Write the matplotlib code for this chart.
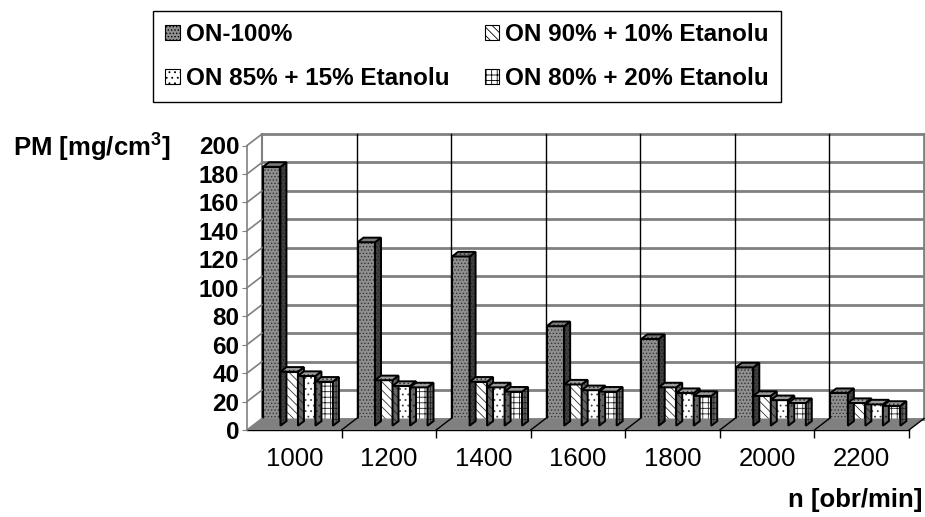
import numpy as np
import matplotlib
matplotlib.use("Agg")
import matplotlib.pyplot as plt
from matplotlib.patches import Polygon, Patch
from matplotlib.transforms import ScaledTranslation, IdentityTransform

plt.rcParams['font.family'] = ['Liberation Sans', 'DejaVu Sans']
plt.rcParams['hatch.linewidth'] = 0.6
plt.rcParams['mathtext.fontset'] = 'custom'
plt.rcParams['mathtext.rm'] = 'Liberation Sans'
plt.rcParams['mathtext.bf'] = 'Liberation Sans:bold'

# engine speed [obr/min] and particulate mass for each fuel blend
speeds = ['1000', '1200', '1400', '1600', '1800', '2000', '2200']
labels = ['ON-100%', 'ON 90% + 10% Etanolu',
          'ON 85% + 15% Etanolu', 'ON 80% + 20% Etanolu']
pm_on100 = [182, 129, 119, 70, 61, 41, 23]
pm_et10 = [38, 32, 31, 29, 27, 21, 16]
pm_et15 = [35, 28, 27, 25, 23, 18, 15]
pm_et20 = [31, 27, 24, 24, 21, 16, 14]
y_ticks = list(range(0, 201, 20))

series = [pm_on100, pm_et10, pm_et15, pm_et20]
# (front face, hatch, hatch colour, top face, side face)
styles = [
    ('#8f8f8f', '.....', '#333333', '#7a7a7a', '#404040'),
    ('white', '\\\\\\\\', '#333333', '#9c9c9c', '#666666'),
    ('white', '...', '#444444', '#9c9c9c', '#666666'),
    ('white', '+++', '#222222', '#9c9c9c', '#666666'),
]

DPI = 100
DEPTH = np.array([15.0, 11.5])   # floor depth in pixels (right, up)
n = len(speeds)

fig = plt.figure(figsize=(9.25, 5.17), dpi=DPI)
ax = fig.add_axes([247 / 925, 87 / 517, 662 / 925, 284.5 / 517])
ax.set_xlim(0, n)
ax.set_ylim(0, 200)
ax.autoscale(False)


def shifted(frac):
    return ax.transData + ScaledTranslation(DEPTH[0] * frac / DPI,
                                            DEPTH[1] * frac / DPI,
                                            fig.dpi_scale_trans)


def px(x, y, frac):
    return ax.transData.transform((x, y)) + DEPTH * frac


def face(points, fc, hatch, hc, z):
    fig.add_artist(Polygon(points, closed=True, facecolor=fc, edgecolor=hc,
                           hatch=hatch, lw=0, transform=IdentityTransform(),
                           zorder=z))
    fig.add_artist(Polygon(points, closed=True, fill=False, edgecolor='black',
                           lw=1.4, transform=IdentityTransform(), zorder=z))


# back wall
back = shifted(1.0)
for v in y_ticks:
    ax.plot([0, n], [v, v], color='#808080', lw=2, transform=back,
            clip_on=False, zorder=1)
for k in range(1, n):
    ax.plot([k, k], [0, 200], color='black', lw=1, transform=back,
            clip_on=False, zorder=1)
ax.plot([n, n], [0, 200], color='#808080', lw=2, transform=back,
        clip_on=False, zorder=1)
ax.plot([0, 0], [0, 200], color='#808080', lw=1.5, transform=back,
        clip_on=False, zorder=1)

# left wall diagonals
for v in y_ticks:
    p0, p1 = px(0, v, 0), px(0, v, 1)
    fig.add_artist(plt.Line2D([p0[0], p1[0]], [p0[1], p1[1]], color='#808080',
                              lw=1.2, transform=IdentityTransform(), zorder=1))

# floor
floor = [px(0, 0, 0), px(n, 0, 0), px(n, 0, 1), px(0, 0, 1)]
fig.add_artist(Polygon(floor, closed=True, facecolor='#808080',
                       edgecolor='none', transform=IdentityTransform(),
                       zorder=1.5))
for k in range(1, n + 1):
    p0, p1 = px(k, 0, 0), px(k, 0, 1)
    fig.add_artist(plt.Line2D([p0[0], p1[0]], [p0[1], p1[1]], color='black',
                              lw=1, transform=IdentityTransform(), zorder=1.6))

# bars with depth
d0, d1 = 0.37, 0.77
bw = 0.185
x0 = np.arange(n) + 0.11
front = shifted(d0)
for i in range(n):
    for j, (vals, st) in enumerate(zip(series, styles)):
        fc, hatch, hc, top_c, side_c = st
        xl = x0[i] + j * bw
        xr = xl + bw
        v = vals[i]
        z = 3 + i * 0.1 + j * 0.01
        side = [px(xr, 0, d0), px(xr, v, d0), px(xr, v, d1), px(xr, 0, d1)]
        top = [px(xl, v, d0), px(xr, v, d0), px(xr, v, d1), px(xl, v, d1)]
        face(side, side_c, hatch, '#222222', z)
        face(top, top_c, '....', '#333333', z)
        ax.bar(xl, v, bw, align='edge', color=fc, edgecolor=hc, hatch=hatch,
               lw=0, transform=front, zorder=z + 0.001, clip_on=False)
        ax.bar(xl, v, bw, align='edge', fill=False, edgecolor='black',
               lw=1.5, transform=front, zorder=z + 0.002, clip_on=False)

# axes and ticks
for s in ['top', 'right']:
    ax.spines[s].set_visible(False)
ax.spines['left'].set_color('#808080')
ax.spines['left'].set_linewidth(1.2)
ax.spines['bottom'].set_color('black')
ax.spines['bottom'].set_linewidth(1)
ax.patch.set_visible(False)

ax.set_yticks(y_ticks)
ax.set_yticklabels([str(v) for v in y_ticks], fontsize=17.5, fontweight='bold')
ax.tick_params(axis='y', length=3.6, color='#808080', pad=2)

ax.set_xticks(np.arange(n) + 0.5)
ax.set_xticklabels(speeds, fontsize=18.5)
ax.tick_params(axis='x', which='major', length=0, pad=12)
ax.set_xticks(range(1, n + 1), minor=True)
ax.tick_params(axis='x', which='minor', length=6, color='black', width=1)

fig.text(13 / 925, 1 - 147 / 517, r'PM [mg/cm$^{\mathbf{3}}$]', fontsize=18.5,
         fontweight='bold', ha='left', va='center')
fig.text(922 / 925, 1 - 500 / 517, 'n [obr/min]', fontsize=18.5,
         fontweight='bold', ha='right', va='center')

# legend
handles = [Patch(facecolor=st[0], edgecolor=st[2], hatch=st[1], lw=0)
           for st in styles]
order = [0, 2, 1, 3]
leg = fig.legend([handles[k] for k in order], [labels[k] for k in order],
                 ncol=2, loc='upper left', bbox_to_anchor=(153 / 925, 1 - 11 / 517),
                 borderaxespad=0, frameon=True, fancybox=False,
                 edgecolor='black', framealpha=1,
                 prop={'weight': 'bold', 'size': 17.5}, handlelength=0.6,
                 handleheight=0.6, handletextpad=0.25, columnspacing=1.45,
                 borderpad=0.5, labelspacing=0.85)
leg.get_frame().set_linewidth(1)
for h in leg.legend_handles:
    h.set_edgecolor('black')
    h.set_linewidth(0.8)

fig.savefig('out.png', dpi=DPI)
